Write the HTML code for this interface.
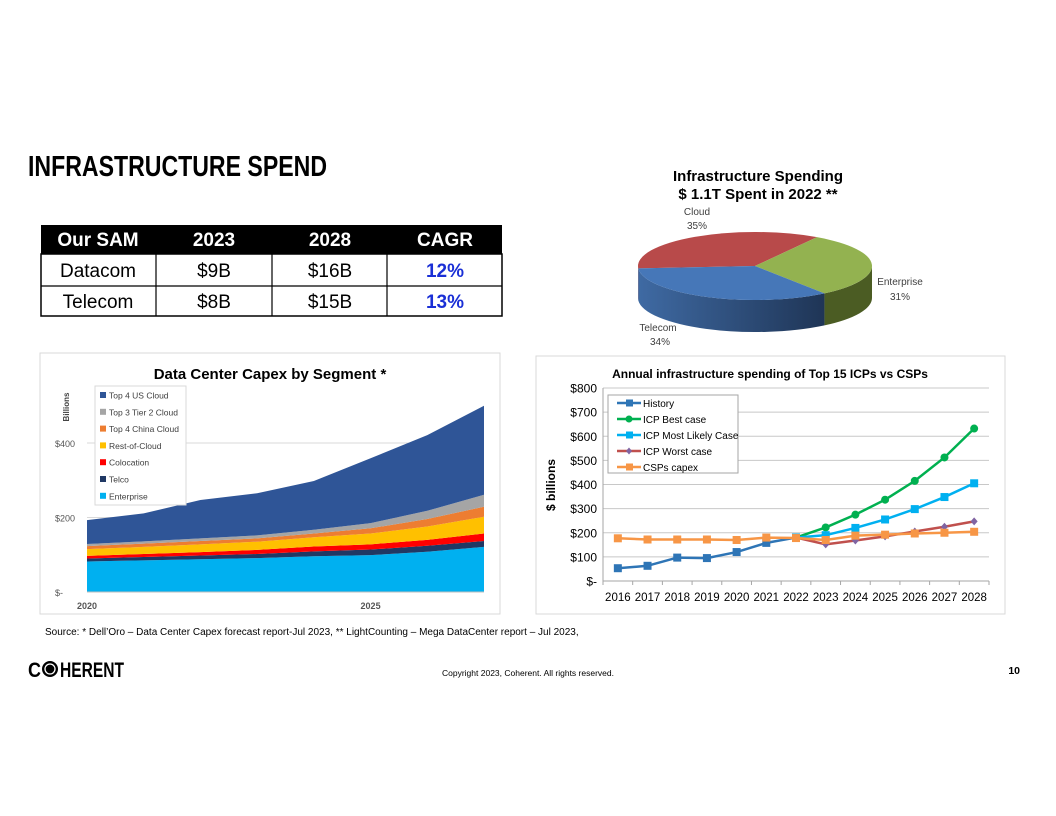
<!DOCTYPE html>
<html><head><meta charset="utf-8"><style>
html,body{margin:0;padding:0;background:#fff;width:1056px;height:816px;overflow:hidden}
svg{display:block;font-family:"Liberation Sans",sans-serif}
</style></head><body>
<svg id="page" width="1056" height="816" viewBox="0 0 1056 816" xmlns="http://www.w3.org/2000/svg">
<text x="28" y="176" font-size="29" font-weight="bold" textLength="299" lengthAdjust="spacingAndGlyphs">INFRASTRUCTURE SPEND</text>

<g>
<rect x="41" y="225" width="461" height="29" fill="#000"/>
<rect x="41" y="254" width="461" height="62" fill="#fff" stroke="#000" stroke-width="1.5"/>
<line x1="41" y1="286" x2="502" y2="286" stroke="#000" stroke-width="1.2"/>
<line x1="156" y1="254" x2="156" y2="316" stroke="#000" stroke-width="1.2"/>
<line x1="272" y1="254" x2="272" y2="316" stroke="#000" stroke-width="1.2"/>
<line x1="387" y1="254" x2="387" y2="316" stroke="#000" stroke-width="1.2"/>
<g font-size="19" text-anchor="middle">
<text x="98" y="246" fill="#fff" font-weight="bold">Our SAM</text>
<text x="214" y="246" fill="#fff" font-weight="bold">2023</text>
<text x="330" y="246" fill="#fff" font-weight="bold">2028</text>
<text x="445" y="246" fill="#fff" font-weight="bold">CAGR</text>
<text x="98" y="277">Datacom</text><text x="214" y="277">$9B</text><text x="330" y="277">$16B</text>
<text x="445" y="277" fill="#1a2fd6" font-weight="bold">12%</text>
<text x="98" y="308">Telecom</text><text x="214" y="308">$8B</text><text x="330" y="308">$15B</text>
<text x="445" y="308" fill="#1a2fd6" font-weight="bold">13%</text>
</g></g>

<g id="pie">
<text x="758" y="181" font-size="15" font-weight="bold" text-anchor="middle">Infrastructure Spending</text>
<text x="758" y="199" font-size="15" font-weight="bold" text-anchor="middle">$ 1.1T Spent in 2022 **</text>
<defs><linearGradient id="tg" x1="0" x2="1"><stop offset="0" stop-color="#3f6aa3"/><stop offset="1" stop-color="#1f3556"/></linearGradient></defs>
</g>

<g id="left">
<rect x="40" y="353" width="460" height="261" fill="#fff" stroke="#d9d9d9"/>
<text x="270" y="379" font-size="15" font-weight="bold" text-anchor="middle">Data Center Capex by Segment *</text>
<text transform="translate(69,407) rotate(-90)" font-size="8" font-weight="bold" fill="#444" text-anchor="middle">Billions</text>
</g>

<g id="right">
<rect x="536" y="356" width="469" height="258" fill="#fff" stroke="#d9d9d9"/>
<text x="770" y="378" font-size="12" font-weight="bold" text-anchor="middle">Annual infrastructure spending of Top 15 ICPs vs CSPs</text>
<text transform="translate(555,485) rotate(-90)" font-size="12" font-weight="bold" text-anchor="middle">$ billions</text>
</g>

<text x="45" y="635" font-size="10">Source: * Dell’Oro – Data Center Capex forecast report-Jul 2023, ** LightCounting – Mega DataCenter report – Jul 2023,</text>
<g>
<text x="28" y="677" font-size="21" font-weight="bold" textLength="13" lengthAdjust="spacingAndGlyphs">C</text>
<circle cx="50" cy="669" r="8" fill="#000"/><circle cx="50" cy="669" r="5" fill="none" stroke="#fff" stroke-width="1.3"/>
<text x="60" y="677" font-size="21" font-weight="bold" textLength="64" lengthAdjust="spacingAndGlyphs">HERENT</text>
</g>
<text x="528" y="676" font-size="8.5" text-anchor="middle">Copyright 2023, Coherent. All rights reserved.</text>
<text x="1020" y="674" font-size="10.5" font-weight="bold" text-anchor="end">10</text>
</svg>
<script>
const NS='http://www.w3.org/2000/svg';
function mk(p,t,a){const e=document.createElementNS(NS,t);for(const k in a)e.setAttribute(k,a[k]);p.appendChild(e);return e;}

// ---------- Pie data ----------
const pieLabels=['Cloud','Enterprise','Telecom'];
const pieValues=[35,31,34];
const pieColors=['#b84a4a','#93b250','#4677b8'];
const pieSide=['#7a2f2f','#4b5c23','url(#tg)'];
// ---------- Capex data ----------
const capexYears=[2020,2021,2022,2023,2024,2025,2026,2027];
const capexSeries=['Enterprise','Telco','Colocation','Rest-of-Cloud','Top 4 China Cloud','Top 3 Tier 2 Cloud','Top 4 US Cloud'];
const enterprise=[82,85,88,91,96,99,108,121];
const telco=[8,9,10,11,13,15,16,16];
const colocation=[7,8,9,11,13,14,16,20];
const restCloud=[18,19,21,22,25,29,36,45];
const chinaCloud=[8,9,9,9,10,14,20,27];
const tier2Cloud=[6,6,7,8,10,14,22,32];
const usCloud=[64,75,103,113,131,174,203,239];
const capexColors=['#00b0f0','#203864','#ff0000','#ffc000','#ed7d31','#a5a5a5','#2f5597'];
const capexTicks=[0,200,400];
const capexTickLabels=['$-','$200','$400'];
// ---------- ICP data ----------
const icpYears=['2016','2017','2018','2019','2020','2021','2022','2023','2024','2025','2026','2027','2028'];
const history=[53,63,97,95,120,158,180,null,null,null,null,null,null];
const bestCase=[null,null,null,null,null,null,180,222,275,337,415,512,632];
const likelyCase=[null,null,null,null,null,null,180,190,220,255,298,348,405];
const worstCase=[null,null,null,null,null,null,180,152,168,185,205,225,247];
const cspCapex=[177,172,172,172,170,180,178,170,188,192,197,200,204];
const icpTicks=[0,100,200,300,400,500,600,700,800];
const icpTickLabels=['$-','$100','$200','$300','$400','$500','$600','$700','$800'];

// ----- Pie -----
(function(){
 const g=document.getElementById('pie');
 const cx=755,cy=266,rx=117,ry=34,d=32;
 const tot=pieValues.reduce((a,b)=>a+b,0);
 const P=(a,dy)=>[cx+rx*Math.cos(a*Math.PI/180),cy+ry*Math.sin(a*Math.PI/180)+(dy||0)];
 let a=176;const segs=[];
 pieValues.forEach((v,i)=>{const s=a,e=a+v/tot*360;segs.push([s,e]);a=e;});
 segs.forEach((sg,i)=>{
  let s=sg[0]%360,e=sg[1]%360; if(e<s)e+=360;
  [[0,180],[360,540]].forEach(r=>{
   const s2=Math.max(s,r[0]),e2=Math.min(e,r[1]);
   if(e2>s2){
    const p1=P(s2),p2=P(e2),p3=P(e2,d),p4=P(s2,d);
    const el=mk(g,'path',{d:`M${p1} A${rx},${ry} 0 0 1 ${p2} L${p3} A${rx},${ry} 0 0 0 ${p4} Z`,fill:pieSide[i]});
    
    
   }
  });
 });
 segs.forEach((sg,i)=>{
  const p1=P(sg[0]),p2=P(sg[1]);const large=(sg[1]-sg[0])>180?1:0;
  const el=mk(g,'path',{d:`M${cx},${cy} L${p1} A${rx},${ry} 0 ${large} 1 ${p2} Z`,fill:pieColors[i]});
  
  
 });
 const labs=[[697,215,'Cloud'],[697,229,pieValues[0]+'%'],[900,285,'Enterprise'],[900,300,pieValues[1]+'%'],[658,331,'Telecom'],[660,345,pieValues[2]+'%']];
 labs.forEach(l=>{const t=mk(g,'text',{x:l[0],y:l[1],'font-size':10,fill:'#404040','text-anchor':'middle'});t.textContent=l[2];
  
  });
})();

// ----- Capex area -----
(function(){
 const g=document.getElementById('left');
 const x0=87,x1=484,y0=592,yScale=74.5/200;
 const X=i=>x0+(x1-x0)*i/(capexYears.length-1);
 const Y=v=>y0-v*yScale;
 capexTicks.forEach((t,i)=>{
  if(t>0){const l=mk(g,'line',{x1:x0,x2:x1,y1:Y(t),y2:Y(t),stroke:'#d9d9d9'});
   
   }
  const tx=mk(g,'text',{x:55,y:Y(t)+4,'font-size':9,fill:'#555'});tx.textContent=capexTickLabels[i];
  
  
 });
 const data=[enterprise,telco,colocation,restCloud,chinaCloud,tier2Cloud,usCloud];
 let base=capexYears.map(()=>0);
 data.forEach((s,k)=>{
  const top=base.map((b,i)=>b+s[i]);
  let dstr='M'+top.map((v,i)=>X(i)+','+Y(v)).join(' L');
  for(let i=capexYears.length-1;i>=0;i--)dstr+=' L'+X(i)+','+Y(base[i]);
  const p=mk(g,'path',{d:dstr+'Z',fill:capexColors[k]});
  
  
  base=top;
 });
 mk(g,'line',{x1:x0,x2:x1,y1:y0,y2:y0,stroke:'#bfbfbf'});
 capexYears.forEach((yr,i)=>{if(yr%5===0){const t=mk(g,'text',{x:X(i),y:609,'font-size':9,fill:'#555','text-anchor':'middle','font-weight':'bold'});t.textContent=yr;
  
  }});
 const lg=mk(g,'g',{});
 
 
 mk(lg,'rect',{x:95,y:386,width:91,height:119,fill:'#fff',stroke:'#d9d9d9'});
 const order=[6,5,4,3,2,1,0];
 order.forEach((k,j)=>{const y=396+j*16.8;
  mk(lg,'rect',{x:100,y:y-4,width:6,height:6,fill:capexColors[k]});
  const t=mk(lg,'text',{x:109,y:y+2.5,'font-size':8.5,fill:'#404040'});t.textContent=capexSeries[k];
  
  });
})();

// ----- ICP lines -----
(function(){
 const g=document.getElementById('right');
 const gx0=603,gx1=989,y0=581,y8=388;
 const n=icpYears.length,step=(gx1-gx0)/n;
 const X=i=>gx0+step*(i+0.5);
 const Y=v=>y0-(y0-y8)*v/800;
 icpTicks.forEach((t,i)=>{
  const l=mk(g,'line',{x1:gx0,x2:gx1,y1:Y(t),y2:Y(t),stroke:t?'#c8c8c8':'#a6a6a6'});
  
  
  const tx=mk(g,'text',{x:597,y:Y(t)+4.5,'font-size':12,'text-anchor':'end'});tx.textContent=icpTickLabels[i];
  
  
 });
 mk(g,'line',{x1:gx0,x2:gx0,y1:y8,y2:y0,stroke:'#a6a6a6'});
 for(let i=0;i<=n;i++)mk(g,'line',{x1:gx0+step*i,x2:gx0+step*i,y1:y0,y2:y0+4,stroke:'#a6a6a6'});
 icpYears.forEach((yr,i)=>{const t=mk(g,'text',{x:X(i),y:601,'font-size':11.5,'text-anchor':'middle'});t.textContent=yr;
  
  });
 const series=[[history,'#2e75b6','sq','history'],[cspCapex,'#f79646','sq','csps-capex'],[bestCase,'#00b050','ci','icp-best-case'],[likelyCase,'#00b0f0','sq','icp-most-likely-case'],[worstCase,'#c0504d','di','icp-worst-case']];
 const draw=[series[0],series[2],series[3],series[4],series[1]];
 draw.forEach(s=>{
  const vals=s[0],c=s[1];const pts=[];vals.forEach((v,i)=>{if(v!==null)pts.push([X(i),Y(v)]);});
  const pl=mk(g,'polyline',{points:pts.map(p=>p.join(',')).join(' '),fill:'none',stroke:c,'stroke-width':2.5});
  
  
  pts.forEach(p=>{let m;
   if(s[2]==='sq')m=mk(g,'rect',{x:p[0]-4,y:p[1]-4,width:8,height:8,fill:c});
   else if(s[2]==='ci')m=mk(g,'circle',{cx:p[0],cy:p[1],r:4,fill:c});
   else m=mk(g,'path',{d:`M${p[0]},${p[1]-4}L${p[0]+3.5},${p[1]}L${p[0]},${p[1]+4}L${p[0]-3.5},${p[1]}Z`,fill:'#8064a2'});
   
   });
 });
 const lg=mk(g,'g',{});
 
 
 mk(lg,'rect',{x:608,y:395,width:130,height:78,fill:'#fff',stroke:'#a6a6a6'});
 const entries=[['History','#2e75b6','sq'],['ICP Best case','#00b050','ci'],['ICP Most Likely Case','#00b0f0','sq'],['ICP Worst case','#c0504d','di'],['CSPs capex','#f79646','sq']];
 entries.forEach((e,j)=>{const y=403+j*16;
  mk(lg,'line',{x1:617,x2:641,y1:y,y2:y,stroke:e[1],'stroke-width':2.5});
  if(e[2]==='ci')mk(lg,'circle',{cx:629,cy:y,r:3.5,fill:e[1]});
  else if(e[2]==='sq')mk(lg,'rect',{x:626,y:y-3.5,width:7,height:7,fill:e[1]});
  else mk(lg,'path',{d:`M629,${y-3.5}L632,${y}L629,${y+3.5}L626,${y}Z`,fill:'#8064a2'});
  const t=mk(lg,'text',{x:643,y:y+4,'font-size':10});t.textContent=e[0];
  
  });
})();
</script>
</body></html>
